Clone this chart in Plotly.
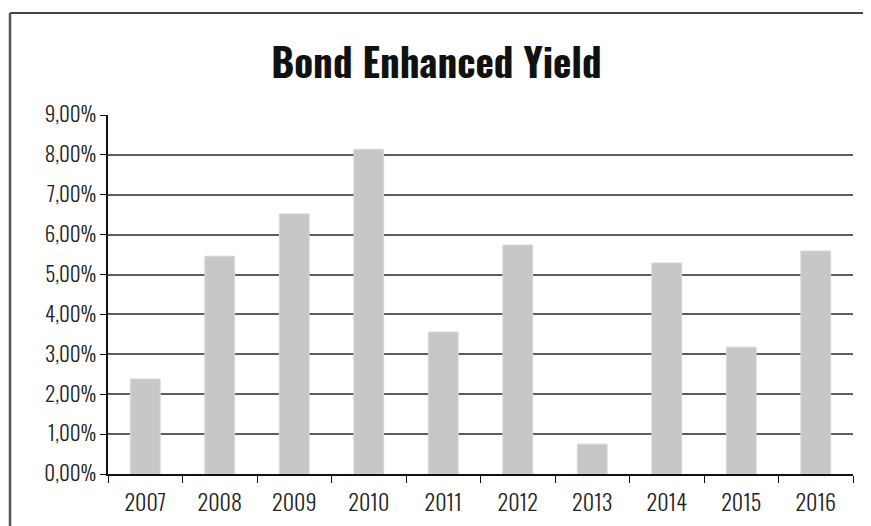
import plotly.graph_objects as go

years = ["2007", "2008", "2009", "2010", "2011", "2012", "2013", "2014", "2015", "2016"]
yields = [2.38, 5.46, 6.52, 8.14, 3.56, 5.74, 0.75, 5.29, 3.18, 5.59]
y_ticks = [0, 1, 2, 3, 4, 5, 6, 7, 8, 9]
y_labels = ["0,00%", "1,00%", "2,00%", "3,00%", "4,00%", "5,00%", "6,00%", "7,00%", "8,00%", "9,00%"]
title_text = "Bond Enhanced Yield"

FONT = "Oswald, Roboto Condensed, sans-serif"

# page offset (browser body margin) of 8 px
OFF = 8
W, H = 871, 526
# target screen positions of plot area
SL, SR, ST, SB = 108, 853, 115, 474
L = SL - OFF
T = ST - OFF
R = W - (SR - OFF)
B = H - (SB - OFF)
pw, ph = W - L - R, H - T - B

def px(x):
    return (x - OFF - L) / pw

def py(y):
    return (H - B - (y - OFF)) / ph

fig = go.Figure()
fig.add_trace(go.Bar(
    x=years, y=yields,
    marker=dict(color="#C6C7C6", line=dict(color="#D6D7D6", width=1)),
    width=0.4,
    hoverinfo="x+y",
))

fig.update_layout(
    width=W, height=H,
    margin=dict(l=L, r=R, t=T, b=B),
    paper_bgcolor="white", plot_bgcolor="white",
    showlegend=False,
    font=dict(family=FONT, color="#222222", size=21),
    title=dict(text=title_text, x=(436.5 - OFF) / W, xanchor="center",
               y=1 - (64 - OFF) / H, yanchor="middle",
               font=dict(family=FONT, size=39, color="#111111", weight=700)),
    xaxis=dict(
        type="category", range=[-0.5, 9.5],
        showline=True, linecolor="#111111", linewidth=1.5,
        ticks="outside", tickson="boundaries", ticklen=7, tickcolor="#111111", tickwidth=1,
        showgrid=False, ticklabelstandoff=9,
        tickfont=dict(family=FONT, size=22, color="#222222", weight=300),
    ),
    yaxis=dict(
        range=[0, 9], tickvals=y_ticks, ticktext=y_labels,
        showline=True, linecolor="#111111", linewidth=1.5,
        ticks="outside", ticklen=6, tickcolor="#111111",
        showgrid=True, gridcolor="#5E5E5E", gridwidth=1.5,
        zeroline=False,
        tickfont=dict(family=FONT, size=21, color="#222222", weight=300),
    ),
    bargap=0.6,
    shapes=[
        dict(type="line", xref="paper", yref="paper",
             x0=px(10), x1=px(W + 5), y0=py(13), y1=py(13),
             line=dict(color="#444444", width=2)),
        dict(type="line", xref="paper", yref="paper",
             x0=px(10), x1=px(10), y0=py(13), y1=py(H + 5),
             line=dict(color="#555555", width=2.5)),
    ],
)

fig.write_html("out.html")
